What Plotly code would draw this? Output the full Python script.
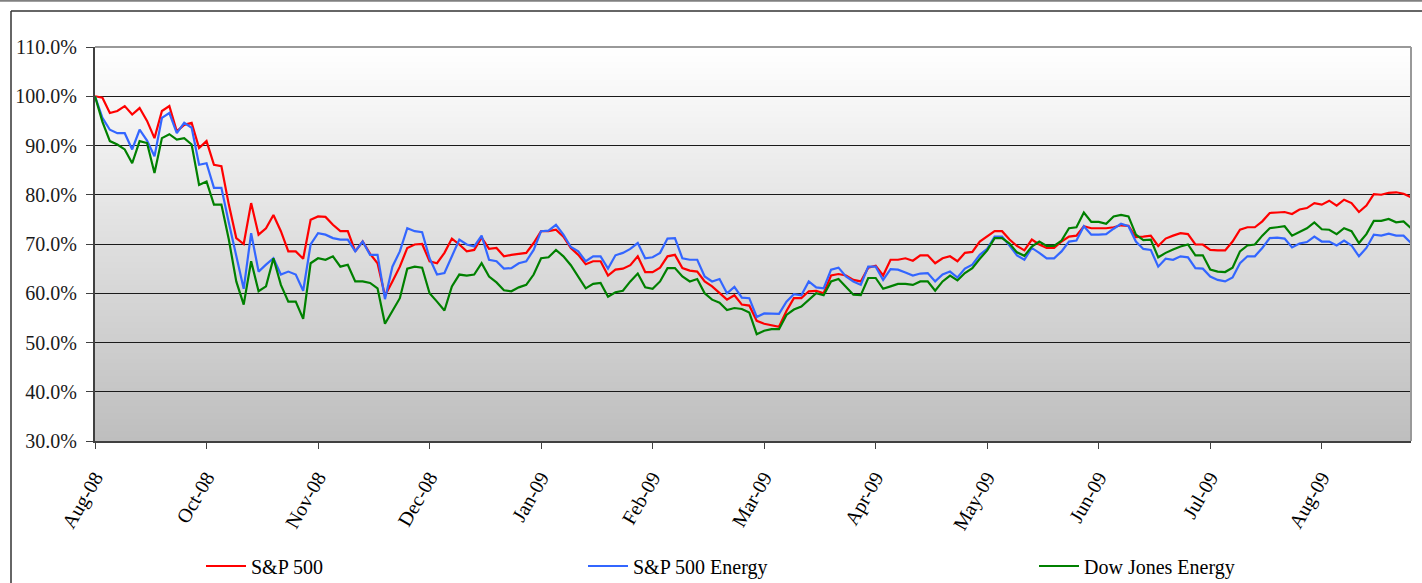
import base64
import struct
import zlib

import plotly.graph_objects as go

# ---------------- data ----------------
tick_labels = ["Aug-08", "Oct-08", "Nov-08", "Dec-08", "Jan-09", "Feb-09",
               "Mar-09", "Apr-09", "May-09", "Jun-09", "Jul-09", "Aug-09"]
points_per_label = 15

sp500 = [100, 99.7, 96.6, 97.0, 98.0, 96.3, 97.6, 95.0, 91.5, 97.0,
         98.0, 92.9, 94.2, 94.6, 89.5, 90.9, 86.1, 85.8, 78.0, 71.2,
         70.0, 78.3, 71.9, 73.2, 75.9, 72.6, 68.5, 68.5, 67.0, 74.9,
         75.6, 75.5, 73.9, 72.6, 72.6, 68.5, 70.5, 68.0, 66.1, 59.5,
         62.4, 65.4, 69.2, 69.9, 70.0, 66.5, 66.1, 68.2, 71.1, 69.9,
         68.5, 68.8, 71.3, 69.0, 69.2, 67.5, 67.8, 68.0, 68.2, 70.2,
         72.6, 72.6, 72.9, 71.5, 69.2, 67.8, 65.9, 66.5, 66.5, 63.6,
         64.8, 65.0, 65.7, 67.5, 64.3, 64.3, 65.2, 67.5, 67.8, 65.1,
         64.6, 64.4, 62.4, 61.4, 60.0, 58.7, 59.6, 57.7, 57.5, 54.4,
         53.8, 53.5, 53.2, 56.4, 59.0, 59.0, 60.4, 60.5, 60.0, 63.6,
         63.9, 63.6, 62.7, 62.4, 65.2, 65.6, 63.6, 66.8, 66.8, 67.1,
         66.6, 67.7, 67.7, 66.1, 67.1, 67.5, 66.5, 68.2, 68.4, 70.5,
         71.5, 72.6, 72.6, 70.9, 69.6, 68.7, 70.9, 69.9, 69.2, 69.2,
         70.5, 71.5, 71.7, 73.6, 73.2, 73.2, 73.2, 73.4, 73.8, 73.7,
         71.4, 71.5, 71.7, 69.6, 71.1, 71.7, 72.2, 72.0, 69.9, 69.9,
         68.8, 68.7, 68.7, 70.5, 72.9, 73.4, 73.4, 74.6, 76.3, 76.4,
         76.5, 76.1, 77.0, 77.3, 78.3, 78.0, 78.8, 77.8, 79.0, 78.3,
         76.5, 77.8, 80.1, 80.0, 80.4, 80.5, 80.2, 79.5]

sp500_energy = [100, 95.6, 93.2, 92.5, 92.5, 89.2, 93.2, 91.0, 87.8, 95.6,
                96.6, 92.5, 94.6, 93.6, 86.1, 86.4, 81.4, 81.4, 74.3, 67.8,
                60.9, 72.2, 64.4, 65.8, 67.1, 63.8, 64.4, 63.8, 60.5, 69.9,
                72.2, 71.9, 71.2, 70.9, 70.9, 68.5, 70.5, 67.8, 67.8, 58.8,
                65.4, 68.5, 73.2, 72.6, 72.4, 67.1, 63.8, 64.1, 67.5, 70.9,
                69.9, 69.5, 71.7, 66.8, 66.5, 65.0, 65.1, 66.1, 66.5, 68.8,
                72.6, 72.7, 73.9, 71.9, 69.4, 68.5, 66.5, 67.5, 67.5, 65.0,
                67.7, 68.2, 69.0, 70.2, 67.1, 67.3, 68.2, 71.1, 71.2, 67.1,
                66.8, 66.8, 63.4, 62.4, 62.9, 60.0, 61.3, 59.1, 59.0, 55.2,
                55.9, 55.8, 55.8, 58.3, 59.8, 59.6, 62.4, 61.2, 61.0, 64.8,
                65.2, 63.4, 62.4, 61.7, 65.4, 65.4, 62.7, 64.9, 64.8, 64.2,
                63.6, 64.0, 64.1, 62.4, 63.8, 64.4, 63.2, 65.0, 65.8, 67.8,
                69.0, 71.5, 71.5, 69.7, 67.7, 66.8, 69.2, 68.2, 67.1, 67.1,
                68.5, 70.5, 70.7, 73.6, 71.9, 71.9, 72.0, 73.1, 74.1, 73.6,
                70.5, 69.0, 68.8, 65.4, 67.0, 66.8, 67.5, 67.3, 65.1, 65.0,
                63.4, 62.7, 62.4, 63.2, 66.1, 67.5, 67.5, 69.2, 71.2, 71.3,
                71.1, 69.3, 70.1, 70.4, 71.5, 70.5, 70.5, 69.7, 70.7, 69.7,
                67.5, 69.2, 71.9, 71.7, 72.1, 71.7, 71.7, 70.2]

dj_energy = [100, 94.8, 90.9, 90.2, 89.2, 86.4, 90.9, 90.5, 84.4, 91.5,
             92.3, 91.2, 91.5, 90.2, 82.0, 82.7, 78.0, 78.0, 70.9, 62.4,
             57.7, 66.5, 60.4, 61.4, 67.1, 61.7, 58.3, 58.3, 54.8, 66.1,
             67.1, 66.8, 67.5, 65.4, 65.8, 62.4, 62.4, 62.1, 61.0, 53.8,
             56.4, 59.0, 65.0, 65.4, 65.2, 60.0, 58.3, 56.5, 61.4, 63.8,
             63.6, 63.8, 66.1, 63.4, 62.2, 60.6, 60.4, 61.2, 61.7, 63.8,
             67.1, 67.3, 68.8, 67.5, 65.7, 63.4, 61.0, 61.9, 62.1, 59.3,
             60.2, 60.5, 62.4, 64.0, 61.2, 60.9, 62.4, 65.1, 65.1, 63.4,
             62.4, 62.9, 60.0, 58.7, 58.1, 56.6, 57.0, 56.8, 56.1, 51.7,
             52.4, 52.7, 52.7, 55.6, 56.7, 57.3, 58.7, 60.0, 59.6, 62.4,
             62.9, 61.4, 59.7, 59.6, 63.1, 63.1, 60.9, 61.4, 61.9, 61.9,
             61.7, 62.4, 62.4, 60.5, 62.4, 63.6, 62.6, 64.1, 65.1, 67.0,
             68.7, 71.2, 71.2, 70.1, 68.3, 67.6, 69.5, 70.5, 69.6, 69.6,
             70.7, 73.2, 73.4, 76.4, 74.5, 74.5, 74.1, 75.6, 75.9, 75.6,
             71.9, 70.8, 70.9, 67.3, 68.2, 68.9, 69.5, 69.9, 67.7, 67.7,
             64.8, 64.4, 64.3, 65.2, 68.5, 69.7, 69.9, 71.7, 73.2, 73.4,
             73.6, 71.7, 72.4, 73.2, 74.4, 73.0, 72.9, 72.0, 73.2, 72.6,
             70.2, 72.0, 74.7, 74.7, 75.1, 74.4, 74.6, 73.2]

series_names = ["S&P 500", "S&P 500 Energy", "Dow Jones Energy"]
series_values = [sp500, sp500_energy, dj_energy]
series_colors = ["#ff0000", "#3366ff", "#008000"]

y_ticks = [30, 40, 50, 60, 70, 80, 90, 100, 110]

# ---------------- helpers ----------------
FONT = "Liberation Serif, Times New Roman, serif"


def gradient_png(height, top, bottom, width=4):
    raw = b""
    for r in range(height):
        t = r / (height - 1)
        c = [round(top[k] + (bottom[k] - top[k]) * t) for k in range(3)]
        raw += b"\x00" + bytes(c) * width

    def chunk(tag, data):
        return (struct.pack(">I", len(data)) + tag + data +
                struct.pack(">I", zlib.crc32(tag + data) & 0xFFFFFFFF))

    png = (b"\x89PNG\r\n\x1a\n" +
           chunk(b"IHDR", struct.pack(">IIBBBBB", width, height, 8, 2, 0, 0, 0)) +
           chunk(b"IDAT", zlib.compress(raw, 9)) +
           chunk(b"IEND", b""))
    return "data:image/png;base64," + base64.b64encode(png).decode()


W, H = 1422, 583
L, R, T, B = 95, 11, 47, 142
PW, PH = W - L - R, H - T - B


def px(xp):
    return (xp - L) / PW


def py(yp):
    return (H - B - yp) / PH


# ---------------- figure ----------------
fig = go.Figure()
legend_ids = ["legend", "legend2", "legend3"]
for name, vals, col, lg in zip(series_names, series_values, series_colors, legend_ids):
    fig.add_trace(go.Scatter(
        x=list(range(len(vals))), y=vals, mode="lines", name=name,
        line=dict(color=col, width=2.2), legend=lg, hoverinfo="skip"))

n_pts = len(sp500)
tickvals = [i * points_per_label for i in range(len(tick_labels))]

legend_common = dict(orientation="h", yanchor="middle", xanchor="left",
                     bgcolor="rgba(0,0,0,0)", borderwidth=0,
                     font=dict(family=FONT, size=20, color="#000000"),
                     itemwidth=40)

fig.update_layout(
    width=W, height=H,
    margin=dict(l=L, r=R, t=T, b=B, pad=0, autoexpand=False),
    paper_bgcolor="#ffffff",
    plot_bgcolor="rgba(0,0,0,0)",
    font=dict(family=FONT, size=20, color="#000000"),
    showlegend=True,
    legend=dict(x=px(201), y=py(566), **legend_common),
    legend2=dict(x=px(583), y=py(566), **legend_common),
    legend3=dict(x=px(1034), y=py(566), **legend_common),
    xaxis=dict(range=[0, n_pts - 1], tickvals=tickvals, ticktext=tick_labels,
               tickangle=-60, showgrid=False, zeroline=False, automargin=False,
               showline=True, linecolor="#404040", linewidth=2,
               ticks="outside", ticklen=6, tickcolor="#404040", tickwidth=1,
               ticklabelstandoff=9,
               tickfont=dict(family=FONT, size=20, color="#000000")),
    yaxis=dict(range=[30, 110], tickvals=y_ticks, automargin=False,
               ticktext=[f"{v:.1f}%" for v in y_ticks],
               showgrid=True, gridcolor="#1a1a1a", gridwidth=1,
               zeroline=False, showline=True, linecolor="#404040", linewidth=2,
               ticks="outside", ticklen=7, tickcolor="#404040", tickwidth=1,
               ticklabelstandoff=5,
               tickfont=dict(family=FONT, size=20, color="#1a1a1a")),
    images=[dict(source=gradient_png(256, (255, 255, 255), (190, 190, 190)),
                 xref="paper", yref="paper", x=0, y=1, sizex=1, sizey=1,
                 xanchor="left", yanchor="top", sizing="stretch",
                 layer="below")],
    shapes=[
        # thin gray band at very top of the picture
        dict(type="line", xref="paper", yref="paper",
             x0=px(0), x1=px(W), y0=py(0.8), y1=py(0.8),
             line=dict(color="#808080", width=2)),
        # chart-area frame (top and left)
        dict(type="line", xref="paper", yref="paper",
             x0=px(11), x1=px(W), y0=py(11), y1=py(11),
             line=dict(color="#333333", width=1.5)),
        dict(type="line", xref="paper", yref="paper",
             x0=px(11), x1=px(11), y0=py(11), y1=py(H),
             line=dict(color="#333333", width=1.5)),
        # plot-area right border and top border
        dict(type="line", xref="paper", yref="paper",
             x0=1, x1=1, y0=0, y1=1, line=dict(color="#999999", width=2)),
        dict(type="line", xref="paper", yref="paper",
             x0=0, x1=1, y0=1, y1=1, line=dict(color="#999999", width=2)),
    ],
)

fig.write_html(
    "out.html",
    config={"displayModeBar": False, "staticPlot": True},
    post_script="document.body.style.margin='0';"
                "document.body.style.overflow='hidden';")
